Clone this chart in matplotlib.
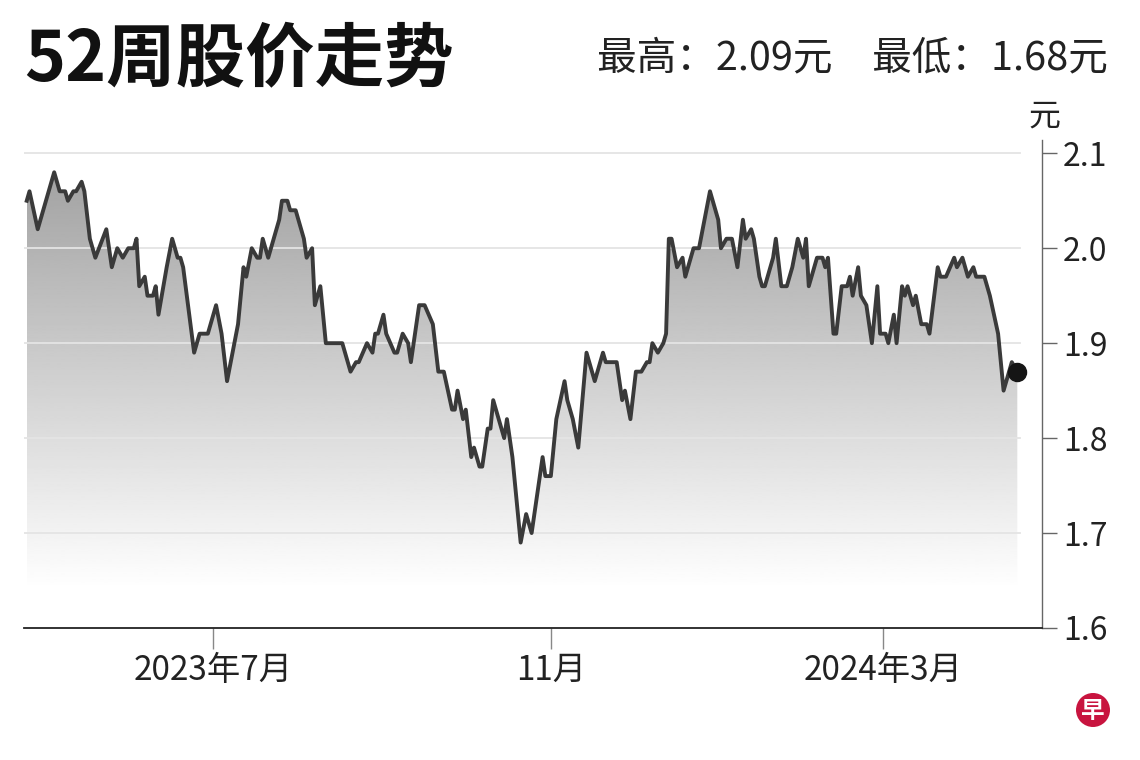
import numpy as np
import pandas as pd
import matplotlib
matplotlib.use("Agg")
import matplotlib.pyplot as plt
import matplotlib.dates as mdates
from matplotlib.patches import Polygon, Circle

plt.rcParams['font.family'] = ['Noto Sans CJK SC', 'DejaVu Sans']

# 收盘价（从原图读取的转折点）
dates = [
    "2023-04-24", "2023-04-25", "2023-04-28", "2023-05-01", "2023-05-04", "2023-05-06",
    "2023-05-08", "2023-05-09", "2023-05-11", "2023-05-12", "2023-05-14", "2023-05-15",
    "2023-05-17", "2023-05-19", "2023-05-23", "2023-05-25", "2023-05-27", "2023-05-29",
    "2023-05-31", "2023-06-02", "2023-06-03", "2023-06-04", "2023-06-06", "2023-06-07",
    "2023-06-09", "2023-06-10", "2023-06-11", "2023-06-14", "2023-06-16", "2023-06-18",
    "2023-06-19", "2023-06-20", "2023-06-24", "2023-06-26", "2023-06-29", "2023-07-02",
    "2023-07-04", "2023-07-06", "2023-07-10", "2023-07-12", "2023-07-13", "2023-07-15",
    "2023-07-17", "2023-07-18", "2023-07-19", "2023-07-21", "2023-07-24", "2023-07-25",
    "2023-07-26", "2023-07-28", "2023-07-29", "2023-07-31", "2023-08-02", "2023-08-03",
    "2023-08-04", "2023-08-06", "2023-08-07", "2023-08-09", "2023-08-11", "2023-08-17",
    "2023-08-20", "2023-08-22", "2023-08-23", "2023-08-26", "2023-08-28", "2023-08-29",
    "2023-08-30", "2023-09-01", "2023-09-02", "2023-09-05", "2023-09-06", "2023-09-08",
    "2023-09-10", "2023-09-11", "2023-09-14", "2023-09-16", "2023-09-19", "2023-09-21",
    "2023-09-23", "2023-09-26", "2023-09-27", "2023-09-28", "2023-09-30", "2023-10-01",
    "2023-10-03", "2023-10-04", "2023-10-06", "2023-10-07", "2023-10-09", "2023-10-10",
    "2023-10-11", "2023-10-12", "2023-10-15", "2023-10-16", "2023-10-18", "2023-10-21",
    "2023-10-23", "2023-10-25", "2023-10-26", "2023-10-29", "2023-10-30", "2023-11-01",
    "2023-11-03", "2023-11-06", "2023-11-07", "2023-11-09", "2023-11-11", "2023-11-14",
    "2023-11-15", "2023-11-17", "2023-11-20", "2023-11-21", "2023-11-24", "2023-11-25",
    "2023-11-27", "2023-11-28", "2023-11-30", "2023-12-02", "2023-12-04", "2023-12-06",
    "2023-12-07", "2023-12-08", "2023-12-10", "2023-12-12", "2023-12-13", "2023-12-14",
    "2023-12-15", "2023-12-17", "2023-12-19", "2023-12-20", "2023-12-22", "2023-12-23",
    "2023-12-25", "2023-12-27", "2023-12-29", "2023-12-31", "2024-01-01", "2024-01-02",
    "2024-01-04", "2024-01-06", "2024-01-08", "2024-01-10", "2024-01-11", "2024-01-13",
    "2024-01-14", "2024-01-16", "2024-01-17", "2024-01-18", "2024-01-20", "2024-01-21",
    "2024-01-22", "2024-01-24", "2024-01-26", "2024-01-28", "2024-01-30", "2024-02-01",
    "2024-02-02", "2024-02-03", "2024-02-05", "2024-02-06", "2024-02-08", "2024-02-09",
    "2024-02-10", "2024-02-12", "2024-02-13", "2024-02-15", "2024-02-17", "2024-02-18",
    "2024-02-19", "2024-02-21", "2024-02-22", "2024-02-24", "2024-02-26", "2024-02-28",
    "2024-02-29", "2024-03-02", "2024-03-03", "2024-03-05", "2024-03-06", "2024-03-08",
    "2024-03-09", "2024-03-10", "2024-03-12", "2024-03-13", "2024-03-15", "2024-03-17",
    "2024-03-18", "2024-03-21", "2024-03-22", "2024-03-24", "2024-03-27", "2024-03-28",
    "2024-03-30", "2024-04-01", "2024-04-03", "2024-04-04", "2024-04-07", "2024-04-09",
    "2024-04-12", "2024-04-14", "2024-04-17", "2024-04-19",
]
prices = [
    2.05, 2.06, 2.02, 2.05, 2.08, 2.06,
    2.06, 2.05, 2.06, 2.06, 2.07, 2.06,
    2.01, 1.99, 2.02, 1.98, 2.00, 1.99,
    2.00, 2.00, 2.01, 1.96, 1.97, 1.95,
    1.95, 1.96, 1.93, 1.98, 2.01, 1.99,
    1.99, 1.98, 1.89, 1.91, 1.91, 1.94,
    1.91, 1.86, 1.92, 1.98, 1.97, 2.00,
    1.99, 1.99, 2.01, 1.99, 2.02, 2.03,
    2.05, 2.05, 2.04, 2.04, 2.02, 2.01,
    1.99, 2.00, 1.94, 1.96, 1.90, 1.90,
    1.87, 1.88, 1.88, 1.90, 1.89, 1.91,
    1.91, 1.93, 1.91, 1.89, 1.89, 1.91,
    1.90, 1.88, 1.94, 1.94, 1.92, 1.87,
    1.87, 1.83, 1.83, 1.85, 1.82, 1.83,
    1.78, 1.79, 1.77, 1.77, 1.81, 1.81,
    1.84, 1.83, 1.80, 1.82, 1.78, 1.69,
    1.72, 1.70, 1.72, 1.78, 1.76, 1.76,
    1.82, 1.86, 1.84, 1.82, 1.79, 1.89,
    1.88, 1.86, 1.89, 1.88, 1.88, 1.88,
    1.84, 1.85, 1.82, 1.87, 1.87, 1.88,
    1.88, 1.90, 1.89, 1.90, 1.91, 2.01,
    2.01, 1.98, 1.99, 1.97, 1.99, 2.00,
    2.00, 2.03, 2.06, 2.04, 2.03, 2.00,
    2.01, 2.01, 1.98, 2.03, 2.01, 2.02,
    2.01, 1.97, 1.96, 1.96, 1.98, 1.99,
    2.01, 1.96, 1.96, 1.98, 2.01, 1.99,
    2.01, 1.96, 1.98, 1.99, 1.99, 1.98,
    1.99, 1.91, 1.91, 1.96, 1.96, 1.97,
    1.95, 1.98, 1.95, 1.94, 1.90, 1.96,
    1.91, 1.91, 1.90, 1.93, 1.90, 1.96,
    1.95, 1.96, 1.94, 1.95, 1.92, 1.92,
    1.91, 1.98, 1.97, 1.97, 1.99, 1.98,
    1.99, 1.97, 1.98, 1.97, 1.97, 1.95,
    1.91, 1.85, 1.88, 1.87,
]

y_ticks = [1.6, 1.7, 1.8, 1.9, 2.0, 2.1]
x_tick_dates = ["2023-07-01", "2023-11-01", "2024-03-01"]
x_tick_labels = ["2023年7月", "11月", "2024年3月"]
title = "52周股价走势"
summary = "最高：2.09元　最低：1.68元"

W, H = 1140, 760
fig = plt.figure(figsize=(W / 100, H / 100), dpi=100)
ax = fig.add_axes([24 / W, 1 - 628 / H, (1042 - 24) / W, (628 - 140) / H])

dt = pd.to_datetime(dates)
xnum = mdates.date2num(dt)
ymin, ymax = 1.6, 2.114
x_left = mdates.date2num(pd.Timestamp("2023-04-23"))
x_right = mdates.date2num(pd.Timestamp("2024-04-28"))

# 渐变填充：用折线围成的多边形裁剪一张竖向渐变图
verts = np.column_stack([np.r_[xnum, xnum[-1], xnum[0]],
                         np.r_[prices, ymin, ymin]])
poly = Polygon(verts, closed=True, facecolor='none', edgecolor='none')
ax.add_patch(poly)
levels = np.linspace(ymin, ymax, 300)
shade = np.clip(0.62 + (2.1 - levels) / 0.46 * 0.38, 0, 1)
img = ax.imshow(shade[:, None], extent=[xnum[0], xnum[-1], ymin, ymax],
                origin='lower', aspect='auto', cmap='gray', vmin=0, vmax=1,
                interpolation='bilinear', zorder=1)
img.set_clip_path(poly)

# 网格线
grid_end = (1020 - 24) / (1042 - 24)
for v in y_ticks[1:]:
    ax.axhline(v, xmin=0, xmax=grid_end, color='#e4e4e4', lw=1.3, zorder=1.5)

ax.plot(dt, prices, color='#3a3a3a', lw=2.8, solid_joinstyle='round', zorder=3)
ax.plot(dt[-1], prices[-1], 'o', ms=13, color='#151515', zorder=4)

ax.set_xlim(x_left, x_right)
ax.set_ylim(ymin, ymax)

for s in ['left', 'top']:
    ax.spines[s].set_visible(False)
ax.spines['right'].set_color('#666666')
ax.spines['right'].set_linewidth(1.0)
ax.spines['bottom'].set_color('#222222')
ax.spines['bottom'].set_linewidth(1.3)

ax.yaxis.tick_right()
ax.set_yticks(y_ticks)
ax.set_yticklabels([f"{v:.1f}" for v in y_ticks])
ax.tick_params(axis='y', direction='out', length=11, width=1.0, color='#666666',
               pad=4, labelsize=23, labelcolor='#222222')

ax.set_xticks(mdates.date2num(pd.to_datetime(x_tick_dates)))
ax.set_xticklabels(x_tick_labels)
ax.tick_params(axis='x', direction='out', length=15, width=1.0, color='#888888',
               pad=3, labelsize=24, labelcolor='#222222')

# 标题与说明
fig.text(24 / W, 1 - 60 / H, title, fontsize=50, fontweight='bold',
         ha='left', va='center', color='#111111')
fig.text(1108 / W, 1 - 58 / H, summary, fontsize=28.5, ha='right', va='center',
         color='#222222')
fig.text(1044 / W, 1 - 117 / H, "元", fontsize=23, ha='center', va='center',
         color='#222222')

# 右下角标志
logo = Circle((10.93, (H - 710) / 100), 0.17, transform=fig.dpi_scale_trans,
              facecolor='#c8143f', edgecolor='none')
fig.patches.append(logo)
fig.text(1093 / W, 1 - 711 / H, "早", fontsize=17, fontweight='bold',
         color='white', ha='center', va='center')

fig.savefig('out.png', dpi=100, facecolor='white')
